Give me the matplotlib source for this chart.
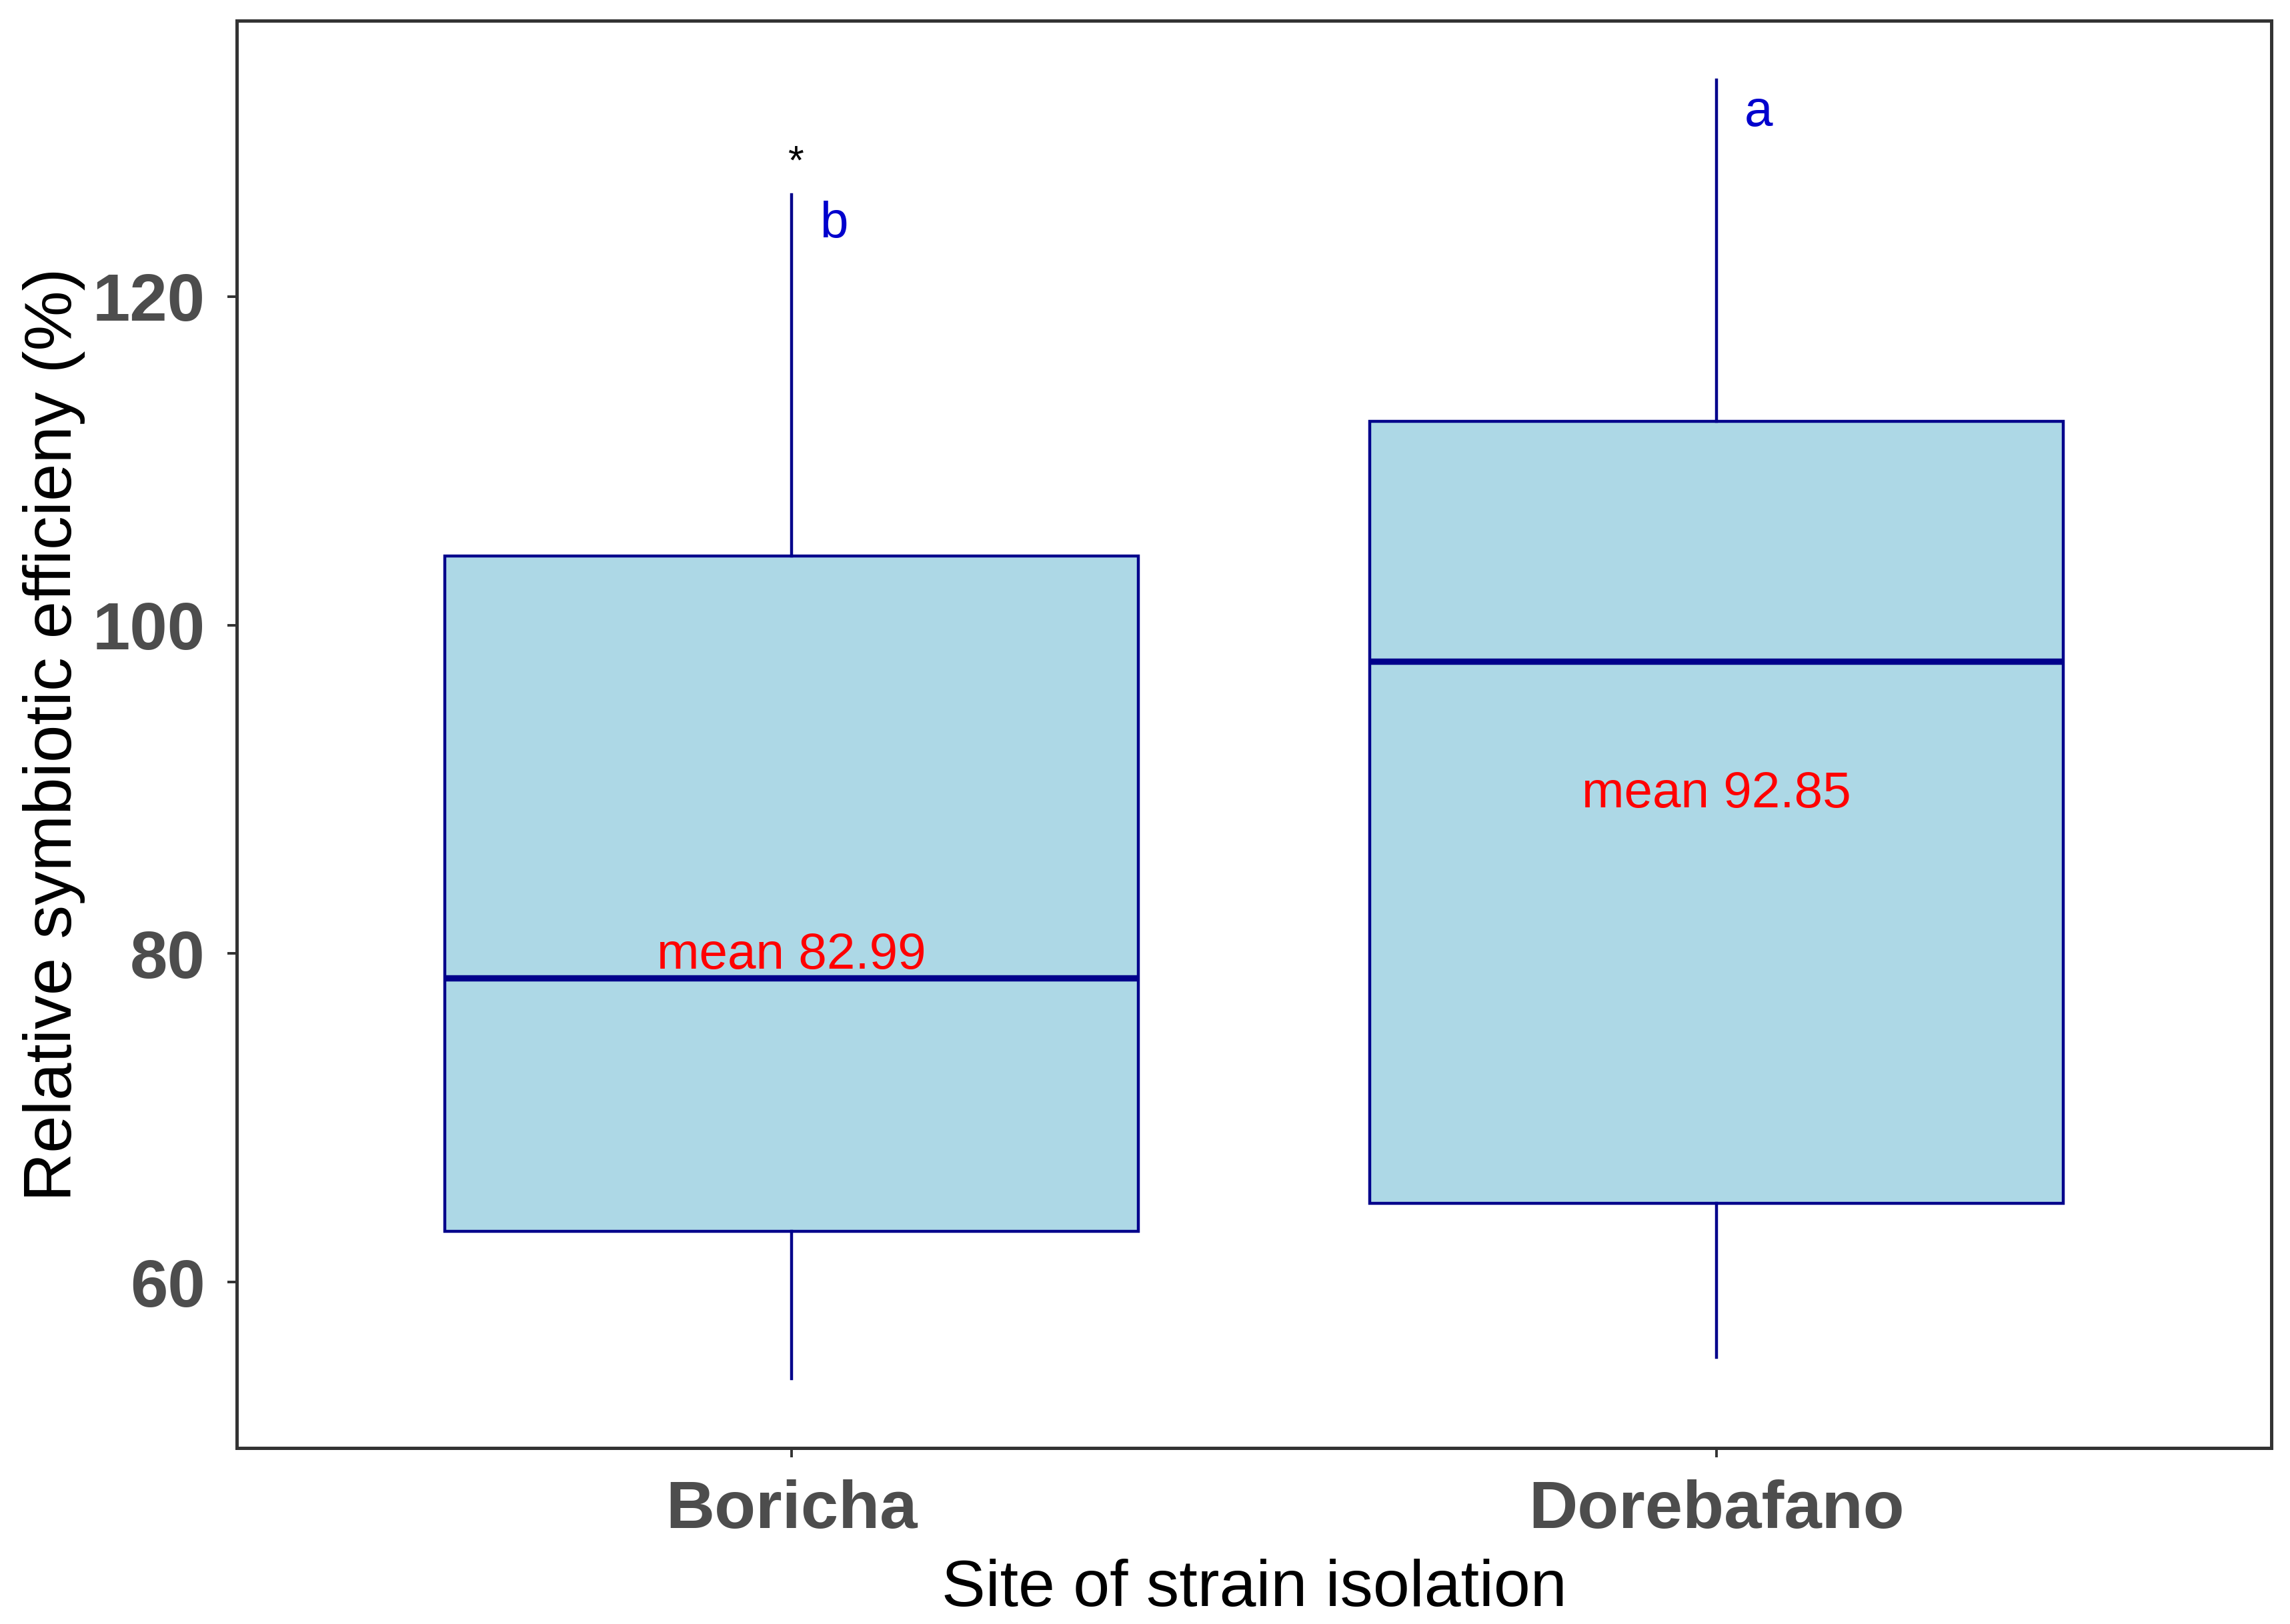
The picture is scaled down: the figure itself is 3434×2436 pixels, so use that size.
import matplotlib
matplotlib.use("Agg")
import matplotlib.pyplot as plt

plt.rcParams['font.family'] = ['Liberation Sans', 'DejaVu Sans']

# data
sites = ["Boricha", "Dorebafano"]
whisker_low = [54.1, 55.4]
q1 = [63.1, 64.8]
medians = [78.5, 97.8]
q3 = [104.2, 112.4]
whisker_high = [126.2, 133.2]
means = [82.99, 92.85]
letters = ["b", "a"]
letter_y = [123.6, 130.4]
mean_label_y = [79.1, 88.9]
star_site = 0
star_y = 127.5

stats = []
for i, s in enumerate(sites):
    stats.append(dict(label=s, whislo=whisker_low[i], q1=q1[i], med=medians[i],
                      q3=q3[i], whishi=whisker_high[i], fliers=[]))

fig = plt.figure(figsize=(17.17, 12.18), dpi=200)
ax = fig.add_axes([0.1034, 0.1084, 0.8884, 0.8789])

positions = [1, 2]
ax.bxp(stats, positions=positions, widths=0.75, patch_artist=True, showcaps=False,
       boxprops=dict(facecolor="#ADD8E6", edgecolor="#00008B", linewidth=1.6),
       whiskerprops=dict(color="#00008B", linewidth=1.6),
       medianprops=dict(color="#00008B", linewidth=3.4))

for i, p in enumerate(positions):
    ax.text(p, mean_label_y[i], f"mean {means[i]:.2f}", color="red", fontsize=27.5,
            ha="center", va="baseline")
    ax.text(p + 0.03, letter_y[i], letters[i], color="#0000CD", fontsize=27.5,
            ha="left", va="baseline")
ax.text(positions[star_site] + 0.005, star_y, "*", color="black", fontsize=22,
        ha="center", va="baseline")

ax.set_xlim(0.4, 2.6)
ax.set_ylim(49.9, 136.8)
ax.set_yticks([60, 80, 100, 120])
ax.set_xticks(positions)
ax.set_xticklabels(sites)

for sp in ax.spines.values():
    sp.set_color("#333333")
    sp.set_linewidth(1.8)

ax.tick_params(axis="both", direction="out", length=5, width=1.4, color="#333333",
               labelcolor="#4D4D4D", labelsize=36.5, pad=12)
for lab in ax.get_xticklabels() + ax.get_yticklabels():
    lab.set_fontweight("bold")

ax.set_xlabel("Site of strain isolation", fontsize=35.5, labelpad=9)
ax.set_ylabel("Relative symbiotic efficieny (%)", fontsize=36.5, labelpad=4)

fig.savefig("out.png", dpi=200)
